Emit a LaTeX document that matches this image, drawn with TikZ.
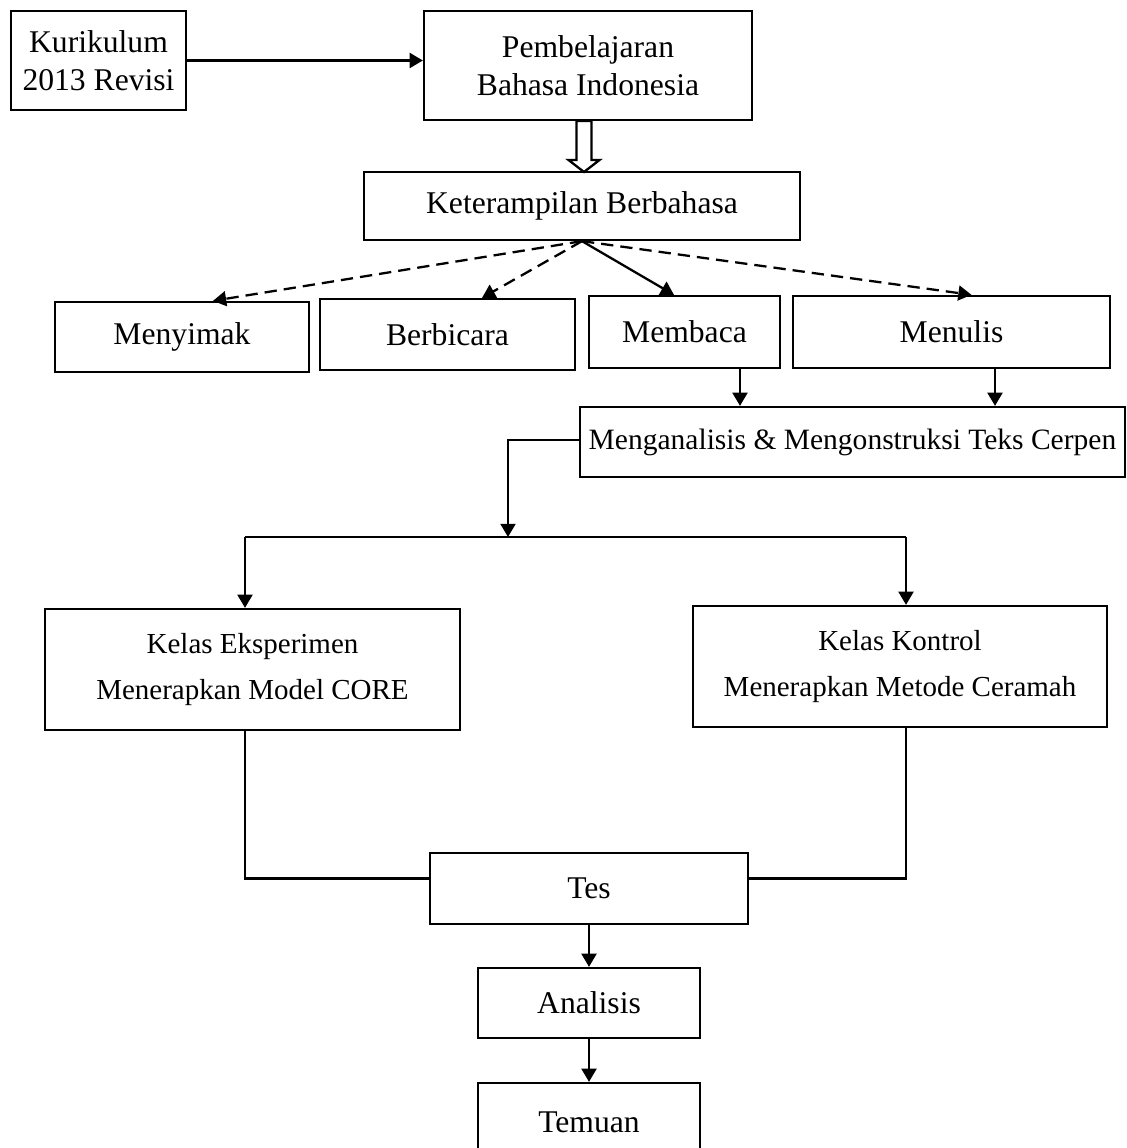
\documentclass[tikz,border=0pt]{standalone}
\usepackage{fontspec}
\setmainfont{Liberation Serif}
\usetikzlibrary{arrows.meta}

\begin{document}
\begin{tikzpicture}[x=0.02cm,y=-0.02cm,
  box/.style 2 args={draw,line width=1.3pt,minimum width=#1*0.02cm,minimum height=#2*0.02cm,
    align=center,inner sep=0pt,font=\fontsize{18}{21.6}\selectfont},
  arr/.style={line width=1.3pt,-{Triangle[length=7.5pt,width=8.5pt]}},
  dsh/.style={arr,dash pattern=on 7pt off 4pt}]

\useasboundingbox (0,0) rectangle (1126,1148);
\clip (0,0) rectangle (1126,1148);

\node[box={175}{99}] (kur) at (98.5,60.5) {Kurikulum\\2013 Revisi};
\node[box={328}{109}] (pemb) at (588,65.5) {Pembelajaran\\Bahasa Indonesia};
\node[box={436}{68}] (ket) at (582,206) {Keterampilan Berbahasa};

\node[box={254}{70}] (nyimak) at (182,337) {Menyimak};
\node[box={255}{71}] (bicara) at (447.5,334.5) {Berbicara};
\node[box={191}{72}] (baca) at (684.5,332) {Membaca};
\node[box={317}{72}] (tulis) at (951.5,332) {Menulis};

\node[box={545}{70},font=\fontsize{16.8}{20}\selectfont] (teks) at (852.5,442) {Menganalisis \& Mengonstruksi Teks Cerpen};

\node[box={415}{121},font=\fontsize{16.5}{20}\selectfont] (eks) at (252.5,669.5) {Kelas Eksperimen\\[0.2cm]Menerapkan Model CORE};
\node[box={414}{121},font=\fontsize{16.5}{20}\selectfont] (kon) at (900,666.5) {Kelas Kontrol\\[0.2cm]Menerapkan Metode Ceramah};

\node[box={318}{71}] (tes) at (589,888.5) {Tes};
\node[box={222}{70}] (anl) at (589,1003) {Analisis};
\node[box={222}{78}] (tem) at (589,1122) {Temuan};

\draw[arr] (kur.east) -- (kur.east -| pemb.west);

% panah kosong
\coordinate (hol) at (584,121);
\draw[line width=1.3pt,fill=white,shift={(hol)}] (-7.5,0) -- (7.5,0) -- (7.5,39) -- (15.5,39)
  -- (0,51) -- (-15.5,39) -- (-7.5,39) -- cycle;

\draw[dsh] (ket.south) -- ([xshift=0.62cm]nyimak.north);
\draw[dsh] (ket.south) -- ([xshift=0.69cm]bicara.north);
\draw[arr] (ket.south) -- ([xshift=-0.21cm]baca.north);
\draw[dsh] (ket.south) -- ([xshift=0.40cm]tulis.north);

\draw[arr] ([xshift=1.11cm]baca.south) coordinate (b1) -- (b1 |- teks.north);
\draw[arr] ([xshift=0.87cm]tulis.south) coordinate (t1) -- (t1 |- teks.north);

\coordinate (split) at (508,537);
\coordinate (jl) at (245,537);
\coordinate (jr) at (906,537);
\draw[arr] ([yshift=0.04cm]teks.west) -| (split);
\draw[line width=1.3pt] (jl) -- (jr);
\draw[arr] (jl) -- (jl |- eks.north);
\draw[arr] (jr) -- (jr |- kon.north);

\draw[line width=1.3pt] (jl |- eks.south) |- ([yshift=0.2cm]tes.west);
\draw[line width=1.3pt] (jr |- kon.south) |- ([yshift=0.2cm]tes.east);

\draw[arr] (tes.south) -- (anl.north);
\draw[arr] (anl.south) -- (tem.north);

\end{tikzpicture}
\end{document}
